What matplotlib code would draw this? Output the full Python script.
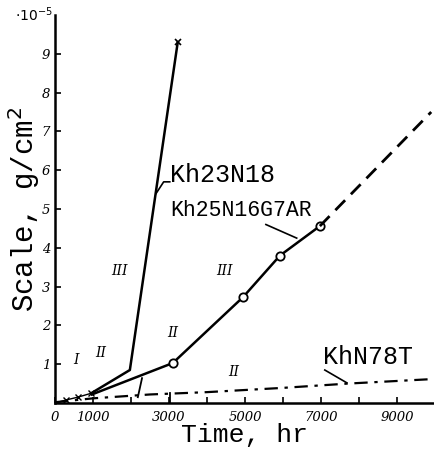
import matplotlib
matplotlib.use("Agg")
import matplotlib.pyplot as plt
import numpy as np

# ---- data ----
start_x = [300, 600, 950]
start_y = [0.08, 0.15, 0.25]

kh23_x = [950, 1970, 3230]
kh23_y = [0.25, 0.85, 9.3]

kh25_x = [970, 3100, 4950, 5920, 6970]
kh25_y = [0.22, 1.03, 2.73, 3.80, 4.56]
kh25_ext_x = [6970, 9900]
kh25_ext_y = [4.56, 7.5]

khn_x = [0, 1000, 2500, 4000, 6000, 7700, 10000]
khn_y = [0.02, 0.12, 0.22, 0.28, 0.39, 0.50, 0.62]

xtick_vals = [0, 1000, 3000, 5000, 7000, 9000]
xtick_labels = ["0", "1000", "3000", "5000", "7000", "9000"]
ytick_vals = [1, 2, 3, 4, 5, 6, 7, 8, 9]
ytick_labels = ["1", "2", "3", "4", "5", "6", "7", "8", "9"]

stages = [("I", 550, 1.1), ("II", 1200, 1.3), ("III", 1700, 3.4),
          ("II", 3100, 1.8), ("III", 4450, 3.4), ("II", 4700, 0.8)]

fig = plt.figure(figsize=(4.35, 4.5), dpi=100)
ax = fig.add_axes([55/435, 1-403/450, 380/435, 388/450])

lw = 1.8
ax.plot(start_x, start_y, color="black", lw=1.0, marker="x", ms=4, mew=1.0)
ax.plot([0, 300], [0.0, 0.08], color="black", lw=1.0)
ax.plot(kh23_x, kh23_y, color="black", lw=lw)
ax.plot(kh23_x[-1], kh23_y[-1], marker="x", color="black", ms=4, mew=1.2)
ax.plot(kh25_x, kh25_y, color="black", lw=lw)
ax.plot(kh25_x[1:], kh25_y[1:], ls="none", marker="o", ms=6, mfc="white",
        mec="black", mew=1.3)
ax.plot(kh25_ext_x, kh25_ext_y, color="black", lw=2.0, dashes=(5, 3))
ax.plot(khn_x, khn_y, color="black", lw=1.6, dashes=(6, 3, 1.5, 3))

# stage boundary marks
ax.plot([2180, 2290], [0.15, 0.64], color="black", lw=1.3)
ax.plot([3030, 3030], [0.0, 0.25], color="black", lw=1.3)

for txt, x, y in stages:
    ax.text(x, y, txt, fontsize=10, style="italic", family="DejaVu Serif",
            ha="center", va="center")

mono = "Liberation Mono"
ax.text(3030, 5.88, "Kh23N18", fontsize=18, family=mono, ha="left", va="center")
ax.plot([2660, 2860, 3020], [5.4, 5.7, 5.7], color="black", lw=1.2)
ax.text(3030, 4.97, "Kh25N16G7AR", fontsize=15.5, family=mono, ha="left", va="center")
ax.plot([5550, 6360], [4.6, 4.25], color="black", lw=1.2)
ax.text(7050, 1.19, "KhN78T", fontsize=18, family=mono, ha="left", va="center")
ax.plot([7100, 7680], [0.85, 0.52], color="black", lw=1.2)

ax.set_xlim(0, 10000)
ax.set_ylim(0, 10)
for s in ["top", "right"]:
    ax.spines[s].set_visible(False)
for s in ["left", "bottom"]:
    ax.spines[s].set_linewidth(1.8)

ax.set_xticks(xtick_vals)
ax.set_xticklabels(xtick_labels, fontsize=9.5, style="italic", family="DejaVu Serif")
ax.set_xticks(np.arange(0, 10001, 1000), minor=True)
ax.set_yticks(ytick_vals)
ax.set_yticklabels(ytick_labels, fontsize=9.5, style="italic", family="DejaVu Serif")
ax.tick_params(axis="both", which="both", direction="in", length=4, width=1.2)
ax.tick_params(axis="x", pad=6)
ax.text(-0.005, 1.0, r"$\cdot 10^{-5}$", transform=ax.transAxes, fontsize=10,
        ha="right", va="center", style="italic")

ax.set_xlabel("Time, hr", fontsize=19, family=mono, labelpad=-1)
ax.set_ylabel("Scale, g/cm$^2$", fontsize=21, family=mono, labelpad=0)

fig.savefig("out.png", dpi=100, facecolor="white")
